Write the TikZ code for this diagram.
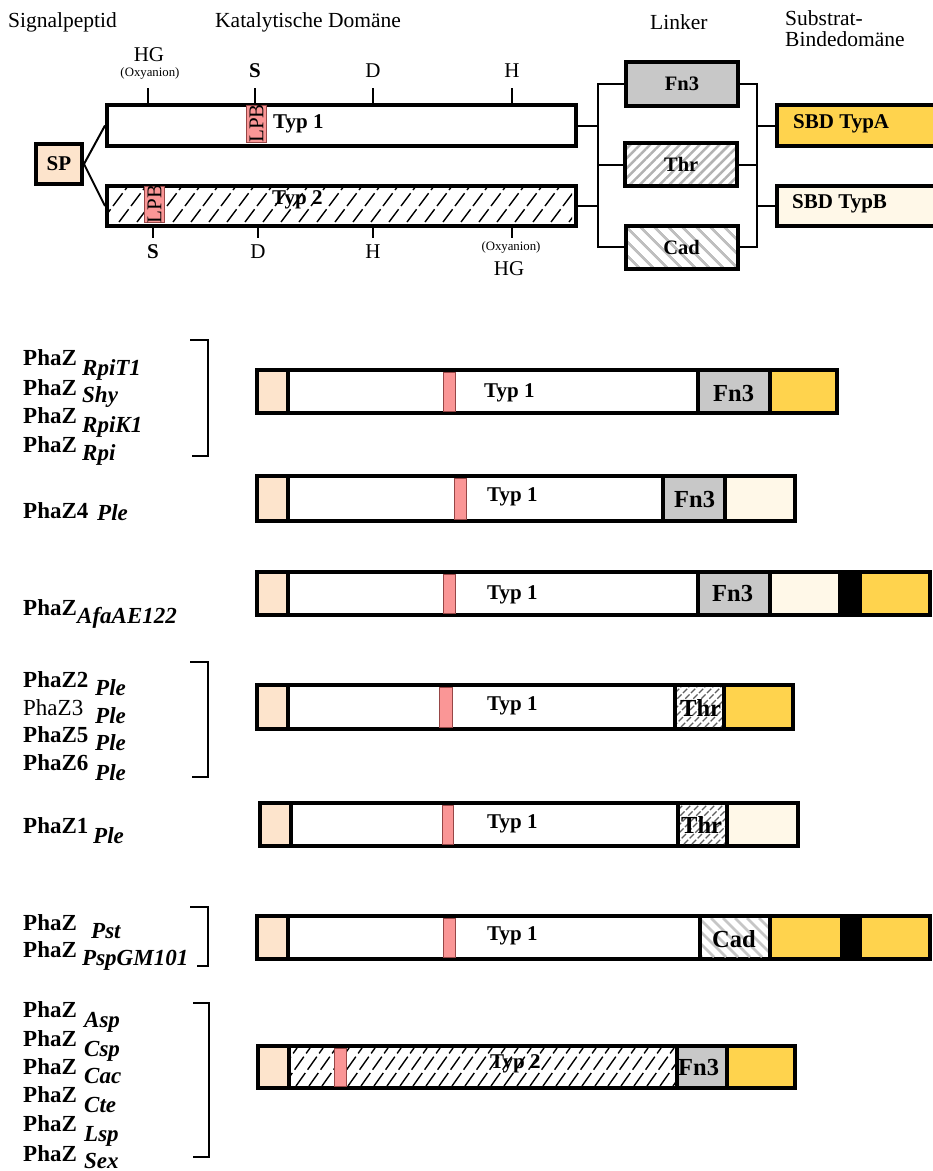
\documentclass[tikz,border=0pt]{standalone}
\usepackage{fontspec}
\setmainfont{Liberation Serif}
\usetikzlibrary{patterns.meta}

\definecolor{spfill}{RGB}{253,228,204}
\definecolor{lpbfill}{RGB}{250,150,150}
\definecolor{lpbline}{RGB}{150,70,70}
\definecolor{fngray}{RGB}{200,200,200}
\definecolor{sbdA}{RGB}{255,211,77}
\definecolor{sbdB}{RGB}{255,248,232}

% diagonal hatching clipped to a rectangle: #1 line style, (#2,#3) top left,
% (#4,#5) bottom right, #6 horizontal spacing, #7 horizontal run of one line
\newcommand\diaghatch[7]{%
  \begin{scope}
    \clip (#2,#3) rectangle (#4,#5);
    \foreach \k in {0,...,70}
      \draw[#1] ({#2-60+\k*#6},#5) -- ++(#7,{#3-#5});
  \end{scope}%
}

\begin{document}
\begin{tikzpicture}[x=1pt,y=-1pt,
  dombox/.style={draw, line width=4pt, inner sep=0pt, anchor=north west},
  domseg/.style={draw, line width=4pt},
  lpbbox/.style={draw=lpbline, line width=0.8pt, fill=lpbfill},
  conn/.style={line width=2pt},
  lbhead/.style={font=\fontsize{21.5}{24}\selectfont, inner sep=0pt, anchor=base west},
  lbbold/.style={font=\fontsize{21}{24}\selectfont\bfseries, inner sep=0pt},
  lbmid/.style={font=\fontsize{20.5}{24}\selectfont\bfseries},
  lbbig/.style={font=\fontsize{24.5}{28}\selectfont\bfseries, inner sep=0pt, anchor=base west},
  lbsmall/.style={font=\fontsize{12.8}{15}\selectfont, inner sep=0pt, anchor=base},
  lbsite/.style={font=\fontsize{21}{24}\selectfont, inner sep=0pt, anchor=base},
  lbsiteb/.style={font=\fontsize{21}{24}\selectfont\bfseries, inner sep=0pt, anchor=base},
  lbrot/.style={font=\fontsize{21}{24}\selectfont, inner sep=0pt, rotate=90},
  lbgene/.style={font=\fontsize{23}{26}\selectfont\bfseries, inner sep=0pt, anchor=base west},
  lbgenereg/.style={font=\fontsize{23}{26}\selectfont, inner sep=0pt, anchor=base west},
  lborg/.style={font=\fontsize{23}{26}\selectfont\bfseries\itshape, inner sep=0pt, anchor=base west},
  hatchline/.style={line width=1.4pt, dash pattern=on 16pt off 4pt},
  thrline/.style={line width=1.2pt, draw={rgb,255:red,95;green,95;blue,95}, dash pattern=on 6pt off 2pt},
  cadline/.style={line width=2.5pt, draw=gray!45}
]
\useasboundingbox (0,0) rectangle (933,1171);

% ---------- column headings ----------
\node[lbhead] (hsp) at (8,27) {Signalpeptid};
\node[lbhead] (hcat) at (215,27) {Katalytische Domäne};
\node[lbhead] (hlink) at (650,29) {Linker};
\node[lbhead] (hsub1) at (785,25) {Substrat-};
\node[lbhead] (hsub2) at (785,46) {Bindedomäne};

% ---------- catalytic domain type 1 ----------
\node[dombox, fill=white, minimum width=469pt, minimum height=41pt] (t1) at (105,103) {};
\path[lpbbox] (246.5,105) rectangle (266.5,142);
\node[lbrot] (lpb1) at (256.5,123.5) {LPB};
\node[lbbold, anchor=base west] (t1txt) at (273,128) {Typ 1};

% ---------- catalytic domain type 2 ----------
\node[dombox, minimum width=469pt, minimum height=40pt] (t2) at (105,184) {};
\node[lbbold, anchor=base west] (t2txt) at (272,204) {Typ 2};
\diaghatch{hatchline}{107}{186}{572}{222}{18}{27}
\path[lpbbox] (144.5,186) rectangle (164.5,222);
\node[lbrot] (lpb2) at (154.5,204) {LPB};

% ---------- active site markers ----------
\draw[conn] (148,88) -- (148,103);
\draw[conn] (255,88) -- (255,103);
\draw[conn] (373,88) -- (373,103);
\draw[conn] (512,88) -- (512,103);
\node[lbsite] (hg1) at (149,61) {HG};
\node[lbsmall] (ox1) at (150,76) {(Oxyanion)};
\node[lbsiteb] (s1) at (255,77) {S};
\node[lbsite] (d1) at (373,77) {D};
\node[lbsite] (h1) at (512,77) {H};

\draw[conn] (153,224) -- (153,238);
\draw[conn] (258,224) -- (258,238);
\draw[conn] (373,224) -- (373,238);
\draw[conn] (512,224) -- (512,238);
\node[lbsiteb] (s2) at (153,258) {S};
\node[lbsite] (d2) at (258,258) {D};
\node[lbsite] (h2) at (373,258) {H};
\node[lbsmall] (ox2) at (511,250) {(Oxyanion)};
\node[lbsite] (hg2) at (509,275) {HG};

% ---------- signal peptide ----------
\node[dombox, fill=spfill, minimum width=46pt, minimum height=40pt, font=\fontsize{21}{24}\selectfont\bfseries] (sp) at (34,142) {SP};
\draw[conn] (sp.east) -- (t1.west);
\draw[conn] (sp.east) -- (t2.west);

% ---------- linker variants ----------
\node[dombox, fill=fngray, minimum width=112pt, minimum height=44pt, lbmid] (fn3) at (624,60) {Fn3};
\node[dombox, pattern={Lines[angle=45,distance=7pt,line width=2.5pt]}, pattern color=gray!60,
      minimum width=112pt, minimum height=43pt, lbmid] (thr) at (624,142) {Thr};
\node[dombox, pattern={Lines[angle=-45,distance=10.5pt,line width=3pt]}, pattern color=gray!50,
      minimum width=112pt, minimum height=43pt, lbmid] (cad) at (624,224) {Cad};

\coordinate (busl) at (598,0);
\draw[conn] (t1.east) -- (t1.east -| busl);
\draw[conn] (t2.east) -- (t2.east -| busl);
\draw[conn] (fn3.west) -| (cad.west -| busl) -- (cad.west);
\draw[conn] (thr.west) -- (thr.west -| busl);

% ---------- substrate binding domains ----------
\node[dombox, fill=sbdA, minimum width=170pt, minimum height=41pt] (sbda) at (775,103) {};
\node[lbbold, anchor=base west] (sbdatxt) at (793,128) {SBD TypA};
\node[dombox, fill=sbdB, minimum width=170pt, minimum height=40pt] (sbdb) at (775,184) {};
\node[lbbold, anchor=base west] (sbdbtxt) at (792,208) {SBD TypB};

\coordinate (busr) at (757,0);
\draw[conn] (fn3.east) -| (cad.east -| busr) -- (cad.east);
\draw[conn] (thr.east) -- (thr.east -| busr);
\draw[conn] (sbda.west -| busr) -- (sbda.west);
\draw[conn] (sbdb.west -| busr) -- (sbdb.west);

% ================= depolymerase architectures =================
% --- row 1 ---
\path[domseg, fill=spfill] (257,370) rectangle (288,413);
\path[domseg, fill=white] (288,370) rectangle (698,413);
\path[domseg, fill=fngray] (698,370) rectangle (770,413);
\path[domseg, fill=sbdA] (770,370) rectangle (837,413);
\path[lpbbox] (443,372) rectangle (455,411);
\node[lbbold, anchor=base west] (r1typ) at (484,397) {Typ 1};
\node[lbbig] (r1fn) at (713,401) {Fn3};

\draw[conn] (190,340) -- (208,340) -- (208,456) -- (192,456);
\node[lbgene] (g1a) at (23,365) {PhaZ};
\node[lborg] (o1a) at (82,375) {RpiT1};
\node[lbgene] (g1b) at (23,395) {PhaZ};
\node[lborg] (o1b) at (82,402) {Shy};
\node[lbgene] (g1c) at (23,423) {PhaZ};
\node[lborg] (o1c) at (82,432) {RpiK1};
\node[lbgene] (g1d) at (23,452) {PhaZ};
\node[lborg] (o1d) at (82,460) {Rpi};

% --- row 2 ---
\path[domseg, fill=spfill] (257,476) rectangle (288,521);
\path[domseg, fill=white] (288,476) rectangle (663,521);
\path[domseg, fill=fngray] (663,476) rectangle (725,521);
\path[domseg, fill=sbdB] (725,476) rectangle (795,521);
\path[lpbbox] (454,478) rectangle (466,519);
\node[lbbold, anchor=base west] (r2typ) at (487,501) {Typ 1};
\node[lbbig] (r2fn) at (674,507) {Fn3};

\node[lbgene] (g2) at (23,518) {PhaZ4};
\node[lborg] (o2) at (97,520) {Ple};

% --- row 3 ---
\path[domseg, fill=spfill] (257,572) rectangle (288,615);
\path[domseg, fill=white] (288,572) rectangle (698,615);
\path[domseg, fill=fngray] (698,572) rectangle (770,615);
\path[domseg, fill=sbdB] (770,572) rectangle (840,615);
\path[domseg, fill=black] (840,572) rectangle (860,615);
\path[domseg, fill=sbdA] (860,572) rectangle (930,615);
\path[lpbbox] (443,574) rectangle (455,613);
\node[lbbold, anchor=base west] (r3typ) at (487,599) {Typ 1};
\node[lbbig] (r3fn) at (712,601) {Fn3};

\node[lbgene] (g3) at (23,615) {PhaZ};
\node[lborg] (o3) at (77,623) {AfaAE122};

% --- row 4 ---
\path[domseg, fill=spfill] (257,685) rectangle (288,729);
\path[domseg, fill=white] (288,685) rectangle (675,729);
\path[domseg, fill=white] (675,685) rectangle (724,729);
\diaghatch{thrline}{677}{687}{722}{727}{8}{40}
\path[domseg, fill=sbdA] (724,685) rectangle (793,729);
\path[lpbbox] (439,687) rectangle (452,727);
\node[lbbold, anchor=base west] (r4typ) at (487,710) {Typ 1};
\node[lbbig] (r4thr) at (680,716) {Thr};

\draw[conn] (190,662) -- (208,662) -- (208,777) -- (192,777);
\node[lbgene] (g4a) at (23,687) {PhaZ2};
\node[lborg] (o4a) at (95,695) {Ple};
\node[lbgenereg] (g4b) at (23,715) {PhaZ3};
\node[lborg] (o4b) at (95,723) {Ple};
\node[lbgene] (g4c) at (23,742) {PhaZ5};
\node[lborg] (o4c) at (95,750) {Ple};
\node[lbgene] (g4d) at (23,770) {PhaZ6};
\node[lborg] (o4d) at (95,780) {Ple};

% --- row 5 ---
\path[domseg, fill=spfill] (260,803) rectangle (291,846);
\path[domseg, fill=white] (291,803) rectangle (678,846);
\path[domseg, fill=white] (678,803) rectangle (727,846);
\diaghatch{thrline}{680}{805}{725}{844}{8}{39}
\path[domseg, fill=sbdB] (727,803) rectangle (798,846);
\path[lpbbox] (442,805) rectangle (453,844);
\node[lbbold, anchor=base west] (r5typ) at (487,828) {Typ 1};
\node[lbbig] (r5thr) at (681,833) {Thr};

\node[lbgene] (g5) at (23,833) {PhaZ1};
\node[lborg] (o5) at (93,843) {Ple};

% --- row 6 ---
\path[domseg, fill=spfill] (257,916) rectangle (288,959);
\path[domseg, fill=white] (288,916) rectangle (700,959);
\path[domseg, fill=white] (700,916) rectangle (770,959);
\diaghatch{cadline}{702}{918}{768}{957}{12}{-39}
\path[domseg, fill=sbdA] (770,916) rectangle (842,959);
\path[domseg, fill=black] (842,916) rectangle (860,959);
\path[domseg, fill=sbdA] (860,916) rectangle (930,959);
\path[lpbbox] (443,918) rectangle (455,957);
\node[lbbold, anchor=base west] (r6typ) at (487,940) {Typ 1};
\node[lbbig] (r6cad) at (712,947) {Cad};

\draw[conn] (190,907) -- (208,907) -- (208,966) -- (197,966);
\node[lbgene] (g6a) at (23,930) {PhaZ};
\node[lborg] (o6a) at (91,938) {Pst};
\node[lbgene] (g6b) at (23,957) {PhaZ};
\node[lborg] (o6b) at (82,965) {PspGM101};

% --- row 7 ---
\path[domseg, fill=spfill] (258,1046) rectangle (289,1088);
\path[domseg, fill=white] (289,1046) rectangle (677,1088);
\node[lbbold, anchor=base west] (r7typ) at (490,1068) {Typ 2};
\diaghatch{hatchline}{291}{1048}{675}{1086}{13}{27}
\path[domseg, fill=fngray] (677,1046) rectangle (727,1088);
\path[domseg, fill=sbdA] (727,1046) rectangle (795,1088);
\path[lpbbox] (334,1048) rectangle (346,1086);
\node[lbbig] (r7fn) at (678,1075) {Fn3};

\draw[conn] (193,1003) -- (209,1003) -- (209,1157) -- (193,1157);
\node[lbgene] (g7a) at (23,1017) {PhaZ};
\node[lborg] (o7a) at (84,1027) {Asp};
\node[lbgene] (g7b) at (23,1046) {PhaZ};
\node[lborg] (o7b) at (84,1056) {Csp};
\node[lbgene] (g7c) at (23,1074) {PhaZ};
\node[lborg] (o7c) at (84,1083) {Cac};
\node[lbgene] (g7d) at (23,1102) {PhaZ};
\node[lborg] (o7d) at (84,1112) {Cte};
\node[lbgene] (g7e) at (23,1131) {PhaZ};
\node[lborg] (o7e) at (84,1141) {Lsp};
\node[lbgene] (g7f) at (23,1161) {PhaZ};
\node[lborg] (o7f) at (84,1168) {Sex};
\end{tikzpicture}
\end{document}
